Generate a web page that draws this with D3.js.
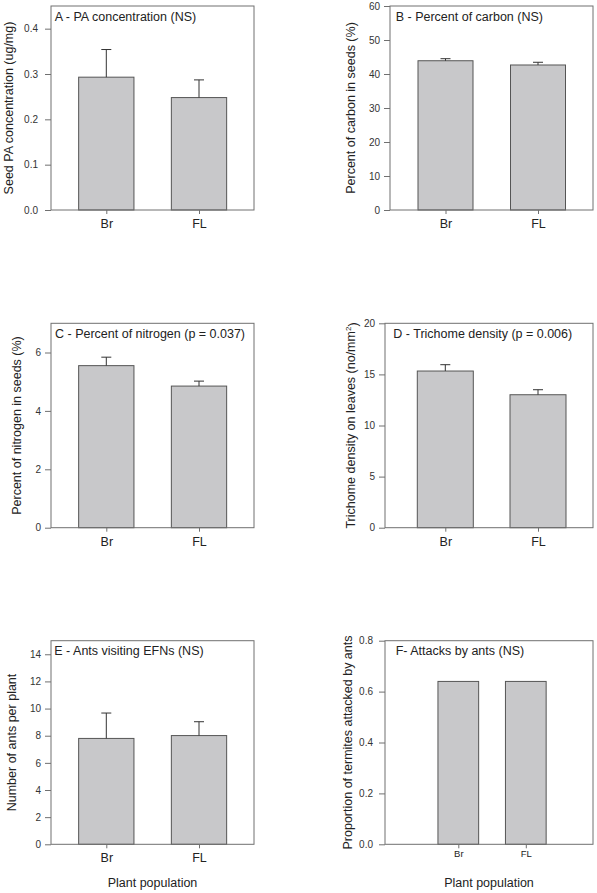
<!DOCTYPE html>
<html>
<head>
<meta charset="utf-8">
<script src="https://cdn.jsdelivr.net/npm/d3@7"></script>
<style>
  html, body { margin: 0; padding: 0; background: #fff; }
  svg { display: block; font-family: "Liberation Sans", Arial, sans-serif; }
</style>
</head>
<body>
<svg id="chart" width="597" height="893"></svg>
<script>
// ---------------- DATA ----------------
const categories = ["Br", "FL"];

const paMean = [0.293, 0.248];
const paSE = [0.061, 0.039];
const paTicks = [0.0, 0.1, 0.2, 0.3, 0.4];

const carbonMean = [43.9, 42.65];
const carbonSE = [0.6, 0.8];
const carbonTicks = [0, 10, 20, 30, 40, 50, 60];

const nitrogenMean = [5.55, 4.85];
const nitrogenSE = [0.29, 0.17];
const nitrogenTicks = [0, 2, 4, 6];

const trichomeMean = [15.33, 13.01];
const trichomeSE = [0.62, 0.49];
const trichomeTicks = [0, 5, 10, 15, 20];

const antsMean = [7.8, 8.01];
const antsSE = [1.87, 1.02];
const antsTicks = [0, 2, 4, 6, 8, 10, 12, 14];

const attackProp = [0.64, 0.64];
const attackTicks = [0.0, 0.2, 0.4, 0.6, 0.8];

const titles = [
  "A - PA concentration (NS)",
  "B - Percent of carbon (NS)",
  "C - Percent of nitrogen (p = 0.037)",
  "D - Trichome density (p = 0.006)",
  "E - Ants visiting EFNs (NS)",
  "F- Attacks by ants (NS)"
];
const yLabels = [
  "Seed PA concentration (ug/mg)",
  "Percent of carbon in seeds (%)",
  "Percent of nitrogen in seeds (%)",
  "Trichome density on leaves (no/mm",
  "Number of ants per plant",
  "Proportion of termites attacked by ants"
];
const xLabel = "Plant population";

// ---------------- LAYOUT ----------------
const panels = [
  { mean: paMean, se: paSE, ticks: paTicks, domain: [0, 0.45], fmt: ".1f",
    L: 51, R: 254, T: 6, B: 210, cx: [106.3, 199], bw: 55.3, titleX: 54.7, ylx: 12.5, pad: 7, catFont: 12.5 },
  { mean: carbonMean, se: carbonSE, ticks: carbonTicks, domain: [0, 60], fmt: "d",
    L: 390, R: 593, T: 6, B: 210, cx: [445.5, 538], bw: 55, titleX: 395.7, ylx: 355, pad: 4, catFont: 12.5 },
  { mean: nitrogenMean, se: nitrogenSE, ticks: nitrogenTicks, domain: [0, 7], fmt: "d",
    L: 51, R: 254, T: 323.3, B: 527.7, cx: [106.3, 199], bw: 55.3, titleX: 55, ylx: 21, pad: 4, catFont: 12.5 },
  { mean: trichomeMean, se: trichomeSE, ticks: trichomeTicks, domain: [0, 20], fmt: "d",
    L: 385, R: 593, T: 323.3, B: 527.7, cx: [445.3, 538], bw: 56, titleX: 393.3, ylx: 355, pad: 4, catFont: 12.5, sup: "2" },
  { mean: antsMean, se: antsSE, ticks: antsTicks, domain: [0, 15], fmt: "d",
    L: 51, R: 254, T: 640.7, B: 844.3, cx: [106.3, 199], bw: 55.3, titleX: 54.3, ylx: 15.7, pad: 4, catFont: 12.5, xlab: true },
  { mean: attackProp, se: null, ticks: attackTicks, domain: [0, 0.8], fmt: ".1f",
    L: 385, R: 593, T: 640.7, B: 844.3, cx: [458.3, 525.8], bw: 40.7, titleX: 395.7, ylx: 351.5, pad: 6, catFont: 9.5, catPad: 2, xlab: true }
];

const svg = d3.select("#chart");
const frameColor = "#707070";
const barFill = "#c8c8ca";
const barStroke = "#555";

panels.forEach((p, i) => {
  const g = svg.append("g");
  const y = d3.scaleLinear().domain(p.domain).range([p.B, p.T]);
  const x = d3.scalePoint().domain(categories).range(p.cx);

  // bars
  g.selectAll("rect.bar").data(categories).join("rect")
    .attr("class", "bar")
    .attr("x", d => x(d) - p.bw / 2)
    .attr("y", (d, k) => y(p.mean[k]))
    .attr("width", p.bw)
    .attr("height", (d, k) => y(0) - y(p.mean[k]))
    .attr("fill", barFill)
    .attr("stroke", barStroke)
    .attr("stroke-width", 1);

  // error bars (upper only)
  if (p.se) {
    const eb = g.selectAll("g.err").data(categories).join("g").attr("class", "err");
    eb.append("line")
      .attr("x1", d => x(d)).attr("x2", d => x(d))
      .attr("y1", (d, k) => y(p.mean[k]))
      .attr("y2", (d, k) => y(p.mean[k] + p.se[k]))
      .attr("stroke", "#333").attr("stroke-width", 1);
    eb.append("line")
      .attr("x1", d => x(d) - 5).attr("x2", d => x(d) + 5)
      .attr("y1", (d, k) => y(p.mean[k] + p.se[k]))
      .attr("y2", (d, k) => y(p.mean[k] + p.se[k]))
      .attr("stroke", "#333").attr("stroke-width", 1);
  }

  // frame
  g.append("rect")
    .attr("x", p.L).attr("y", p.T)
    .attr("width", p.R - p.L).attr("height", p.B - p.T)
    .attr("fill", "none").attr("stroke", frameColor).attr("stroke-width", 1);

  // y axis
  const ya = g.append("g").attr("transform", `translate(${p.L},0)`)
    .call(d3.axisLeft(y).tickValues(p.ticks).tickFormat(d3.format(p.fmt)).tickSize(6).tickPadding(p.pad));
  ya.select(".domain").remove();
  ya.selectAll("line").attr("stroke", frameColor);
  ya.selectAll("text").attr("fill", "#333").style("font-size", "10px").style("font-family", "Liberation Sans, Arial, sans-serif");

  // x axis
  const xa = g.append("g").attr("transform", `translate(0,${p.B})`)
    .call(d3.axisBottom(x).tickSize(4).tickPadding(p.catPad !== undefined ? p.catPad : 5));
  xa.select(".domain").remove();
  xa.selectAll("line").attr("stroke", frameColor);
  xa.selectAll("text").attr("fill", "#222").style("font-size", p.catFont + "px").style("font-family", "Liberation Sans, Arial, sans-serif");

  // title
  g.append("text")
    .attr("x", p.titleX).attr("y", p.T + 14.5)
    .attr("fill", "#222").style("font-size", "12.5px")
    .text(titles[i]);

  // y label
  const yl = g.append("text")
    .attr("transform", `translate(${p.ylx},${(p.T + p.B) / 2}) rotate(-90)`)
    .attr("text-anchor", "middle")
    .attr("fill", "#222").style("font-size", "12.5px")
    .text(yLabels[i]);
  if (p.sup) {
    yl.append("tspan").attr("dy", "-0.45em").style("font-size", "8px").text(p.sup);
    yl.append("tspan").attr("dy", "0.45em").text(")");
  }

  // x label
  if (p.xlab) {
    g.append("text")
      .attr("x", (p.L + p.R) / 2).attr("y", 887)
      .attr("text-anchor", "middle")
      .attr("fill", "#222").style("font-size", "12.5px")
      .text(xLabel);
  }
});
</script>
</body>
</html>
